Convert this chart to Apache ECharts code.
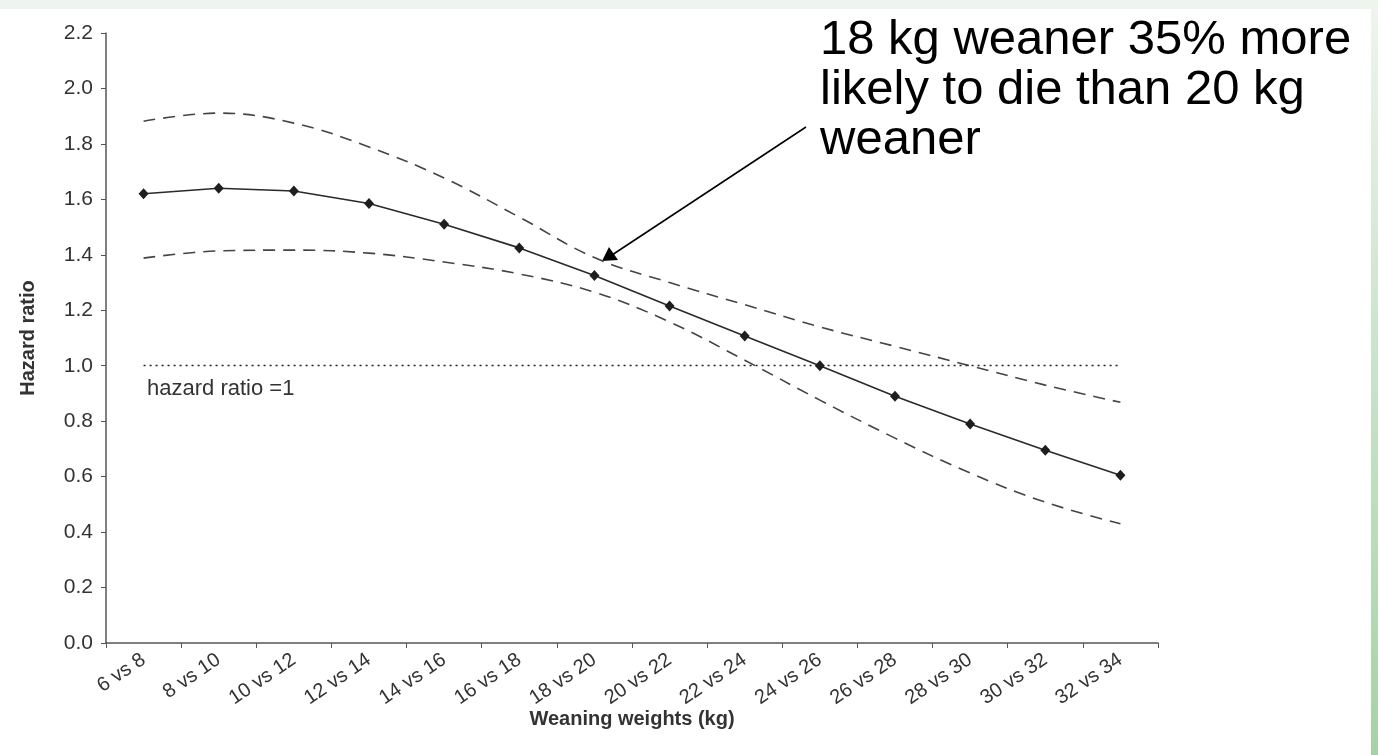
<!DOCTYPE html>
<html>
<head>
<meta charset="utf-8">
<title>Hazard ratio by weaning weight</title>
<script src="https://cdn.jsdelivr.net/npm/echarts@6/dist/echarts.min.js"></script>
<style>
  html, body { margin: 0; padding: 0; background: #ffffff; }
  #wrap { position: relative; width: 1378px; height: 755px; overflow: hidden; }
  .top-strip { position: absolute; left: 0; top: 0; width: 1378px; height: 9px; background: #eef5ee; }
  .right-strip { position: absolute; right: 0; top: 0; width: 7px; height: 755px;
    background: linear-gradient(to bottom, #eef5ee 0%, #cfe6cf 40%, #a6d2a6 100%); }
  #chart { position: absolute; left: 0; top: 0; width: 1378px; height: 755px; }
</style>
</head>
<body>
<div id="wrap">
  <div class="top-strip"></div>
  <div class="right-strip"></div>
  <div id="chart"></div>
</div>
<script>
// comparisons of weaning weights (kg)
const categories = ['6 vs 8', '8 vs 10', '10 vs 12', '12 vs 14', '14 vs 16', '16 vs 18', '18 vs 20',
  '20 vs 22', '22 vs 24', '24 vs 26', '26 vs 28', '28 vs 30', '30 vs 32', '32 vs 34'];

// hazard ratio estimate
const hazardRatio = [1.62, 1.64, 1.63, 1.585, 1.51, 1.425, 1.325, 1.215, 1.107, 1.0, 0.89, 0.79, 0.695, 0.605];
// 95% confidence limits (dashed)
const upperCI = [1.882, 1.911, 1.875, 1.789, 1.677, 1.536, 1.39, 1.30, 1.22, 1.14, 1.07, 1.0, 0.93, 0.868];
const lowerCI = [1.388, 1.414, 1.417, 1.406, 1.374, 1.331, 1.265, 1.158, 1.02, 0.876, 0.739, 0.613, 0.508, 0.43];

const yTicks = { min: 0, max: 2.2, step: 0.2 };
const referenceValue = 1;

const chart = echarts.init(document.getElementById('chart'));

const txt = '#333333';
const font = 'Liberation Sans, Arial, Helvetica, sans-serif';

const option = {
  backgroundColor: 'transparent',
  animation: false,
  grid: { left: 106, right: 220, top: 33, bottom: 112 },
  xAxis: {
    type: 'category',
    data: categories,
    boundaryGap: true,
    name: 'Weaning weights (kg)',
    nameLocation: 'middle',
    nameGap: 66,
    nameMoveOverlap: false,
    nameTextStyle: { color: txt, fontSize: 20, fontWeight: 'bold', fontFamily: font },
    axisLine: { lineStyle: { color: '#555', width: 1.5 } },
    axisTick: { show: true, length: 5, interval: 0, lineStyle: { color: '#555' } },
    axisLabel: { rotate: 34, interval: 0, color: txt, fontSize: 20, fontFamily: font, margin: 15 },
    splitLine: { show: false }
  },
  yAxis: {
    type: 'value',
    min: yTicks.min,
    max: yTicks.max,
    interval: yTicks.step,
    name: 'Hazard ratio',
    nameLocation: 'middle',
    nameGap: 68,
    nameTextStyle: { color: txt, fontSize: 20, fontWeight: 'bold', fontFamily: font },
    axisLine: { show: true, lineStyle: { color: '#555', width: 1.5 } },
    axisTick: { show: true, length: 5, lineStyle: { color: '#555' } },
    axisLabel: { color: txt, fontSize: 21, fontFamily: font, margin: 13,
      formatter: v => v.toFixed(1) },
    splitLine: { show: false }
  },
  series: [
    {
      name: 'Upper limit',
      type: 'line',
      data: upperCI,
      smooth: 0.4,
      symbol: 'none',
      lineStyle: { color: '#444', width: 1.6, type: [12, 8] },
      z: 2
    },
    {
      name: 'Lower limit',
      type: 'line',
      data: lowerCI,
      smooth: 0.4,
      symbol: 'none',
      lineStyle: { color: '#444', width: 1.6, type: [12, 8] },
      z: 2
    },
    {
      name: 'Hazard ratio',
      type: 'line',
      data: hazardRatio,
      symbol: 'diamond',
      symbolSize: [10, 11],
      itemStyle: { color: '#1e1e1e' },
      lineStyle: { color: '#2a2a2a', width: 1.6 },
      z: 3,
      markLine: {
        silent: true,
        symbol: 'none',
        label: { show: false },
        lineStyle: { color: '#222', width: 1.3, type: [2, 4] },
        data: [[
          { coord: [categories[0], referenceValue] },
          { coord: [categories[categories.length - 1], referenceValue] }
        ]]
      }
    }
  ],
  graphic: [
    {
      type: 'text',
      left: 147,
      top: 378,
      style: { text: 'hazard ratio =1', fill: txt, font: '22px ' + font }
    },
    {
      type: 'text',
      left: 820,
      top: 15,
      style: {
        text: '18 kg weaner 35% more\nlikely to die than 20 kg\nweaner',
        fill: '#000',
        font: '49px ' + font,
        lineHeight: 50
      }
    },
    {
      type: 'line',
      shape: { x1: 806, y1: 127, x2: 612, y2: 255 },
      style: { stroke: '#000', lineWidth: 1.5 }
    },
    {
      type: 'polygon',
      shape: { points: [[602, 261], [609, 247], [618, 260]] },
      style: { fill: '#000' }
    }
  ]
};

chart.setOption(option);
</script>
</body>
</html>
